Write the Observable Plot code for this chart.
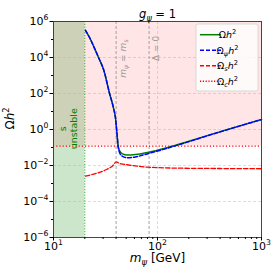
<!DOCTYPE html>
<html><head><meta charset="utf-8">
<script src="https://cdn.jsdelivr.net/npm/d3@7"></script>
<script src="https://cdn.jsdelivr.net/npm/@observablehq/plot@0.6"></script>
<style>
html,body{margin:0;padding:0;background:#fff;}
#chart svg{display:block;font-family:"DejaVu Sans",sans-serif;}
</style></head><body><div id="chart"></div>
<script>
// ---- data ----
const mTotal     = [20.3, 22.7, 25.3, 27.1, 30.5, 34.6, 37.8, 39.5, 41.0, 41.7, 43.1, 46.1, 51.1, 61.4, 82.5, 119.4, 166.4, 403.5, 1000];
const omegaTotal = [3.2e5, 1.0e5, 2.5e4, 1.0e4, 1.9e3, 100, 15, 4.1, 0.41, 0.15, 0.068, 0.044, 0.038, 0.041, 0.055, 0.093, 0.16, 0.76, 3.6];
const omegaPsi   = [3.2e5, 1.0e5, 2.5e4, 1.0e4, 1.9e3, 100, 15, 4.1, 0.40, 0.13, 0.055, 0.032, 0.027, 0.030, 0.047, 0.085, 0.153, 0.75, 3.6];
const mS         = [20.3, 25.3, 31.6, 36.9, 40.3, 43.1, 51.1, 80.1, 166, 403, 1000];
const omegaS     = [0.0026, 0.0035, 0.0056, 0.0095, 0.016, 0.013, 0.011, 0.0081, 0.0071, 0.0068, 0.0066];
const omegaC = 0.12;          // observed relic density
const mUnstable = 20;         // s unstable below this mass
const mEqual = 40;            // m_psi = m_s
const mDelta0 = 83;           // Delta = 0
const xDomain = [10, 1000];
const yDomain = [1e-6, 1e6];
const xTicks = [10, 100, 1000];
const yTicks = [1e-6, 1e-4, 1e-2, 1, 1e2, 1e4, 1e6];
const xMinor = [20, 30, 40, 50, 60, 70, 80, 90, 200, 300, 400, 500, 600, 700, 800, 900];
const yMinor = [1e-5, 1e-3, 1e-1, 10, 1e3, 1e5];
const gridY = [1e-4, 1e-2, 1, 1e2, 1e4];
const gridX = [100];
const seriesLabels = ["Ωh²", "Ωψh²", "Ωsh²", "Ωch²"];
const titleText = "gψ = 1";
const xLabel = "mψ [GeV]";
const yLabel = "Ωh²";

const rowsTotal = mTotal.map((m, i) => ({m, v: omegaTotal[i]}));
const rowsPsi = mTotal.map((m, i) => ({m, v: omegaPsi[i]}));
const rowsS = mS.map((m, i) => ({m, v: omegaS[i]}));
const pinkRegion = [{x1: xDomain[0], x2: xDomain[1], y1: omegaC, y2: yDomain[1]}];
const greenRegion = [{x1: xDomain[0], x2: mUnstable, y1: yDomain[0], y2: yDomain[1]}];

const supFmt = v => "10^" + Math.round(Math.log10(v));

const plot = Plot.plot({
  width: 278, height: 278,
  marginLeft: 53, marginRight: 17, marginTop: 21, marginBottom: 41,
  style: {fontFamily: "DejaVu Sans", fontSize: "11px", background: "white", color: "black", overflow: "visible"},
  x: {type: "log", domain: xDomain, label: null},
  y: {type: "log", domain: yDomain, label: null},
  marks: [
    Plot.rect(pinkRegion, {x1: "x1", x2: "x2", y1: "y1", y2: "y2", fill: "#ff0000", fillOpacity: 0.1}),
    Plot.rect(greenRegion, {x1: "x1", x2: "x2", y1: "y1", y2: "y2", fill: "#008000", fillOpacity: 0.2}),
    Plot.ruleY(gridY, {stroke: "#b0b0b0", strokeOpacity: 0.55, strokeDasharray: "3,2", strokeWidth: 0.8}),
    Plot.ruleX(gridX, {stroke: "#b0b0b0", strokeOpacity: 0.55, strokeDasharray: "3,2", strokeWidth: 0.8}),
    Plot.ruleX([mUnstable], {stroke: "#33aa33", strokeDasharray: "1.2,1.6", strokeWidth: 1}),
    Plot.ruleX([mEqual], {stroke: "#999", strokeDasharray: "3,2", strokeWidth: 0.9}),
    Plot.ruleX([mDelta0], {stroke: "#999", strokeDasharray: "3,2", strokeWidth: 0.9}),
    Plot.ruleY([omegaC], {stroke: "red", strokeDasharray: "1.2,2", strokeWidth: 1.3}),
    Plot.line(rowsS, {x: "m", y: "v", stroke: "red", strokeWidth: 1.3, strokeDasharray: "4.5,2", curve: "monotone-x"}),
    Plot.line(rowsTotal, {x: "m", y: "v", stroke: "green", strokeWidth: 1.5, curve: "monotone-x"}),
    Plot.line(rowsPsi, {x: "m", y: "v", stroke: "blue", strokeWidth: 1.5, strokeDasharray: "4,2", curve: "monotone-x"}),
    Plot.text(["mψ = ms"], {x: () => mEqual, y: () => 8.7e3, text: d => d, rotate: -90, dx: 7, fill: "#999", fontSize: 9}),
    Plot.text(["Δ = 0"], {x: () => mDelta0, y: () => 3.2e4, text: d => d, rotate: -90, dx: 7, fill: "#999", fontSize: 9}),
    Plot.text(["s\nunstable"], {x: () => 13.9, y: () => 1.1, text: d => d, rotate: -90, fill: "green", fontSize: 9.5, lineHeight: 1.15}),
    Plot.frame({stroke: "#333", strokeWidth: 0.9}),
    Plot.axisX(xTicks, {tickSize: 3.5, tickPadding: 1, tickFormat: supFmt, label: null, fontSize: 11}),
    Plot.axisX(xMinor, {tickSize: 2, tickFormat: () => "", label: null}),
    Plot.axisY(yTicks, {tickSize: 3.5, tickPadding: 1.5, tickFormat: supFmt, label: null, fontSize: 11}),
    Plot.axisY(yMinor, {tickSize: 2, tickFormat: () => "", label: null}),
    Plot.text([titleText], {frameAnchor: "top", dy: -12, text: d => d, fontSize: 11.5}),
    Plot.text([xLabel], {frameAnchor: "bottom", lineAnchor: "middle", dy: 21, text: d => d, fontSize: 12}),
    Plot.text([yLabel], {frameAnchor: "left", lineAnchor: "middle", dx: -43.5, rotate: -90, text: d => d, fontSize: 12})
  ]
});
document.getElementById("chart").appendChild(plot);

// ---- rich text (italic, sub/superscripts) ----
const NS = "http://www.w3.org/2000/svg";
function setRich(el, parts, size) {
  while (el.firstChild) el.removeChild(el.firstChild);
  let shift = 0;
  for (const p of parts) {
    const ts = document.createElementNS(NS, "tspan");
    const target = p.s === "sub" ? 0.25 * size : p.s === "sup" ? -0.42 * size : 0;
    const dy = target - shift;
    if (dy) ts.setAttribute("dy", dy);
    shift = target;
    if (p.s) ts.setAttribute("font-size", size * 0.7);
    if (p.i) ts.setAttribute("font-style", "italic");
    ts.textContent = p.t;
    el.appendChild(ts);
  }
}
const richMap = {
  "gψ = 1": [[{t: "g", i: 1}, {t: "ψ", i: 1, s: "sub"}, {t: " = 1"}], 11.5],
  "mψ [GeV]": [[{t: "m", i: 1}, {t: "ψ", i: 1, s: "sub"}, {t: " [GeV]"}], 12],
  "Ωh²": [[{t: "Ω"}, {t: "h", i: 1}, {t: "2", s: "sup"}], 12],
  "mψ = ms": [[{t: "m", i: 1}, {t: "ψ", i: 1, s: "sub"}, {t: " = "}, {t: "m", i: 1}, {t: "s", i: 1, s: "sub"}], 9]
};
plot.querySelectorAll("text").forEach(el => {
  const s = el.textContent;
  const m = s.match(/^10\^(-?\d+)$/);
  if (m) setRich(el, [{t: "10"}, {t: m[1].replace("-", "−"), s: "sup"}], 11);
  else if (richMap[s]) setRich(el, richMap[s][0], richMap[s][1]);
});

// ---- legend (inside the plot, upper right) ----
const legendStyles = [
  {stroke: "green", dash: null, parts: [{t: "Ω"}, {t: "h", i: 1}, {t: "2", s: "sup"}]},
  {stroke: "blue", dash: "4,2", parts: [{t: "Ω"}, {t: "ψ", i: 1, s: "sub"}, {t: "h", i: 1}, {t: "2", s: "sup"}]},
  {stroke: "red", dash: "4,2", parts: [{t: "Ω"}, {t: "s", i: 1, s: "sub"}, {t: "h", i: 1}, {t: "2", s: "sup"}]},
  {stroke: "red", dash: "1.2,1.6", parts: [{t: "Ω"}, {t: "c", i: 1, s: "sub"}, {t: "h", i: 1}, {t: "2", s: "sup"}]}
];
const svg = d3.select(plot);
const lg = svg.append("g").attr("transform", "translate(196,24)");
lg.append("rect").attr("x", 0).attr("y", 0).attr("width", 62).attr("height", 67).attr("rx", 2)
  .attr("fill", "white").attr("fill-opacity", 0.8).attr("stroke", "#d0d0d0").attr("stroke-width", 0.8);
seriesLabels.forEach((lab, i) => {
  const st = legendStyles[i];
  const y = 10.7 + i * 15.5;
  lg.append("line").attr("x1", 4).attr("x2", 25).attr("y1", y).attr("y2", y)
    .attr("stroke", st.stroke).attr("stroke-width", 1.5).attr("stroke-dasharray", st.dash);
  const t = lg.append("text").attr("x", 31.5).attr("y", y).attr("dy", "0.35em")
    .attr("font-size", 9.5).attr("fill", "black").text(lab);
  setRich(t.node(), st.parts, 9.5);
});
</script></body></html>
